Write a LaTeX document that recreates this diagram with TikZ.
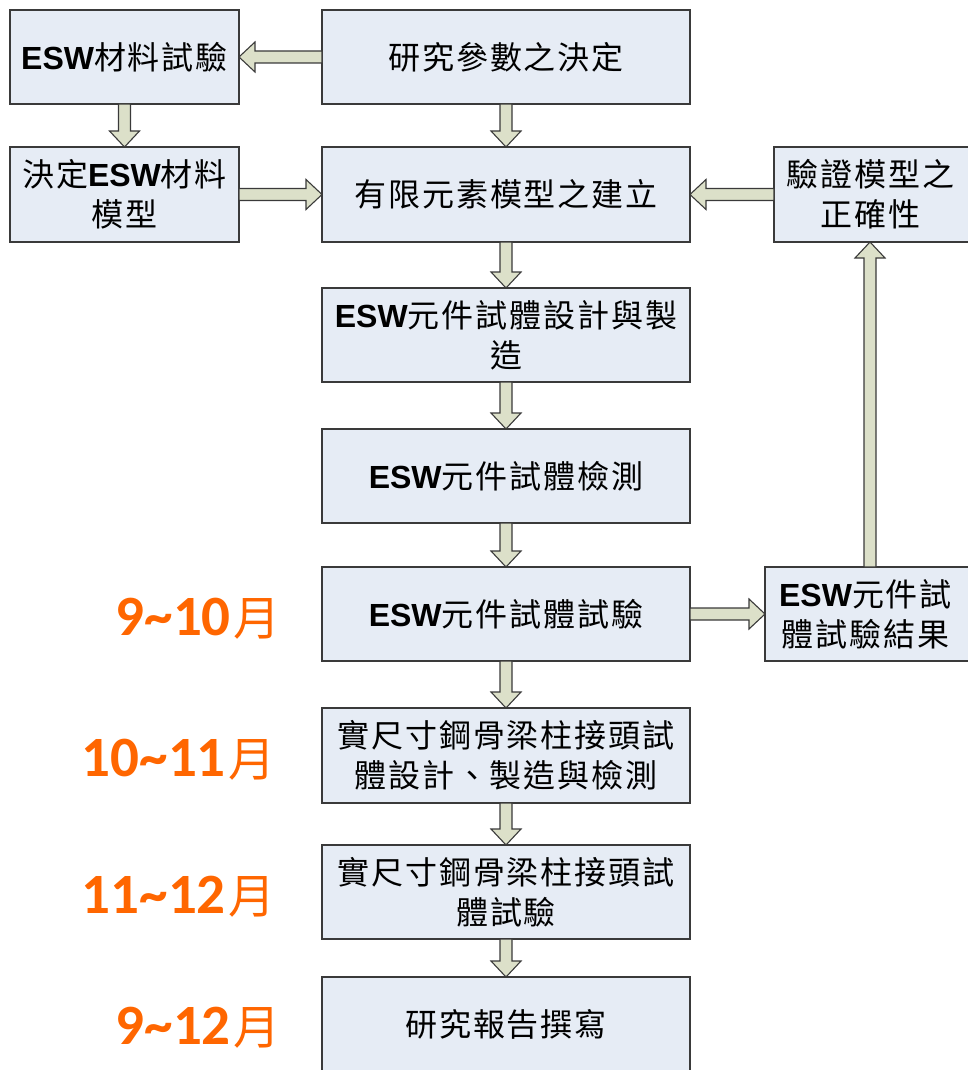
\documentclass[tikz,border=0pt]{standalone}
\usepackage{fontspec}
\setmainfont{Noto Sans CJK TC}
\newfontfamily\boxfont{Noto Sans CJK TC}[LetterSpace=6]
\newfontfamily\eswfont{Liberation Sans}
\newfontfamily\numfont{Carlito}
\usetikzlibrary{calc}
\definecolor{boxfill}{HTML}{E6ECF5}
\definecolor{boxline}{HTML}{3A3A3A}
\definecolor{arrfill}{HTML}{DCE0C9}
\definecolor{orangelbl}{HTML}{FF6600}
\newcommand\ESW{{\eswfont\bfseries ESW}}
\newcommand\mylbl[2]{{\numfont\bfseries #1}\hspace{3pt}{\fontsize{47}{47}\selectfont #2}}
\tikzset{
  box/.style={draw=boxline, line width=1.2pt, fill=boxfill, anchor=north west,
    inner sep=0pt, outer sep=0pt, align=center,
    font=\boxfont\fontsize{32}{40}\selectfont, text=black},
  barrow/.style={draw=boxline, line width=1.1pt, fill=arrfill, line join=miter},
  datelbl/.style={anchor=east, text=orangelbl, font=\fontsize{57}{60}\selectfont, inner sep=0pt}
}
% block arrow from #1 to #2
\newcommand\blockarrow[2]{%
  \draw[barrow] let \p1=(#1), \p2=(#2),
    \n1={atan2(\y2-\y1,\x2-\x1)}, \n2={veclen(\x2-\x1,\y2-\y1)} in
    [shift={(\p1)}, rotate=\n1]
    (0pt,-6pt) -- (\n2-16pt,-6pt) -- (\n2-16pt,-15pt) -- (\n2,0pt)
    -- (\n2-16pt,15pt) -- (\n2-16pt,6pt) -- (0pt,6pt) -- cycle;}
\begin{document}
\begin{tikzpicture}[x=1pt,y=-1pt]
\useasboundingbox (0,0) rectangle (967,1070);
\node[box, minimum width=229pt, minimum height=94pt] (A) at (10,10) {\ESW 材料試驗};
\node[box, minimum width=368pt, minimum height=94pt] (B) at (322,10) {研究參數之決定};
\node[box, minimum width=229pt, minimum height=95pt] (C) at (10,147) {決定\ESW 材料\\模型};
\node[box, minimum width=368pt, minimum height=95pt] (D) at (322,147) {有限元素模型之建立};
\node[box, minimum width=205pt, minimum height=95pt, text width=205pt] (E) at (774,147) {\hspace*{-12pt}驗證模型之\\\hspace*{-12pt}正確性};
\node[box, minimum width=368pt, minimum height=94pt] (F) at (322,288) {\ESW 元件試體設計與製\\造};
\node[box, minimum width=368pt, minimum height=94pt] (G) at (322,429) {\ESW 元件試體檢測};
\node[box, minimum width=368pt, minimum height=94pt] (H) at (322,567) {\ESW 元件試體試驗};
\node[box, minimum width=215pt, minimum height=94pt, text width=215pt] (I) at (765,567) {\hspace*{-14pt}\ESW 元件試\\\hspace*{-14pt}體試驗結果};
\node[box, minimum width=368pt, minimum height=95pt] (J) at (322,708) {實尺寸鋼骨梁柱接頭試\\體設計、製造與檢測};
\node[box, minimum width=368pt, minimum height=94pt] (K) at (322,845) {實尺寸鋼骨梁柱接頭試\\體試驗};
\node[box, minimum width=368pt, minimum height=100pt, text depth=8pt] (L) at (322,977) {研究報告撰寫};

\blockarrow{B.west}{A.east}
\blockarrow{A.south}{C.north}
\blockarrow{B.south}{D.north}
\blockarrow{C.east}{D.west}
\blockarrow{E.west}{D.east}
\blockarrow{D.south}{F.north}
\blockarrow{F.south}{G.north}
\blockarrow{G.south}{H.north}
\blockarrow{H.east}{I.west}
\blockarrow{$(I.north west)+(105pt,0)$}{$(E.south west)+(96pt,0)$}
\blockarrow{H.south}{J.north}
\blockarrow{J.south}{K.north}
\blockarrow{K.south}{L.north}

\node[datelbl] (m1) at (281,619) {\mylbl{9\string~10}{月}};
\node[datelbl] (m2) at (276,760) {\mylbl{10\string~11}{月}};
\node[datelbl] (m3) at (276,897) {\mylbl{11\string~12}{月}};
\node[datelbl] (m4) at (281,1028) {\mylbl{9\string~12}{月}};
\end{tikzpicture}
\end{document}
